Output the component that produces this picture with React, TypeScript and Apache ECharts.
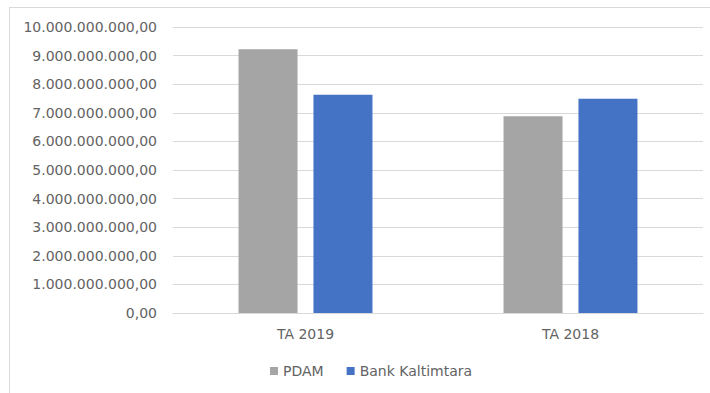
import React, { useEffect, useRef } from "react";
import * as echarts from "echarts";

const categories = ["TA 2019", "TA 2018"];
const pdamValues = [9220000000, 6880000000];
const bankValues = [7630000000, 7490000000];
const seriesNames = ["PDAM", "Bank Kaltimtara"];

function fmt(v: number): string {
  const s = Math.round(v).toString().replace(/\B(?=(\d{3})+(?!\d))/g, ".");
  return s + ",00";
}

export default function App() {
  const ref = useRef<HTMLDivElement>(null);
  useEffect(() => {
    if (!ref.current) return;
    const chart = echarts.init(ref.current, undefined, { renderer: "svg" });
    const font = "'DejaVu Sans', sans-serif";
    chart.setOption({
      animation: false,
      backgroundColor: "#ffffff",
      textStyle: { fontFamily: font },
      grid: { left: 173, right: 7, top: 27, bottom: 80, containLabel: false },
      legend: {
        left: 265,
        top: 359,
        itemWidth: 8,
        itemHeight: 8,
        itemGap: 23,
        icon: "rect",
        textStyle: { color: "#636363", fontSize: 14, fontFamily: font },
        data: seriesNames,
      },
      xAxis: {
        type: "category",
        data: categories,
        axisLine: { show: true, lineStyle: { color: "#d9d9d9" } },
        axisTick: { show: false },
        axisLabel: { color: "#636363", fontSize: 14, margin: 14, fontFamily: font },
      },
      yAxis: {
        type: "value",
        min: 0,
        max: 10000000000,
        interval: 1000000000,
        axisLine: { show: false },
        axisTick: { show: false },
        splitLine: { lineStyle: { color: "#d9d9d9" } },
        axisLabel: {
          color: "#636363",
          fontSize: 14,
          margin: 16,
          fontFamily: font,
          formatter: (v: number) => fmt(v),
        },
      },
      graphic: [
        { type: "line", shape: { x1: 9, y1: 7.5, x2: 710, y2: 7.5 }, style: { stroke: "#d9d9d9", lineWidth: 1 } },
        { type: "line", shape: { x1: 9.5, y1: 7, x2: 9.5, y2: 393 }, style: { stroke: "#d9d9d9", lineWidth: 1 } },
      ],
      series: [
        {
          name: seriesNames[0],
          type: "bar",
          data: pdamValues,
          barWidth: 59,
          barGap: "27%",
          itemStyle: { color: "#a5a5a5" },
        },
        {
          name: seriesNames[1],
          type: "bar",
          data: bankValues,
          barWidth: 59,
          itemStyle: { color: "#4472c4" },
        },
      ],
    });
    return () => chart.dispose();
  }, []);
  return (
    <div
      ref={ref}
      style={{ position: "fixed", left: 0, top: 0, width: 710, height: 393 }}
    />
  );
}
